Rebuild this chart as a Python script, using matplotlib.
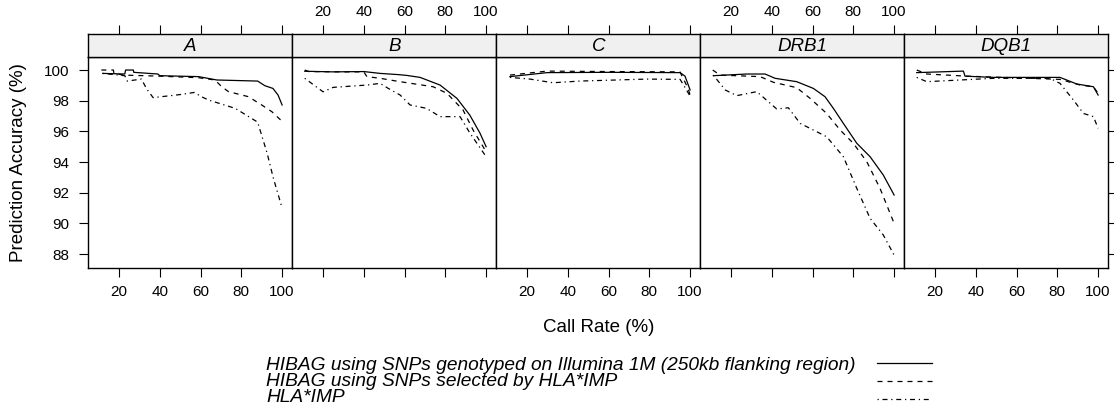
import matplotlib
matplotlib.use("Agg")
import matplotlib.pyplot as plt
from matplotlib.lines import Line2D

plt.rcParams['font.family'] = ['Liberation Sans', 'DejaVu Sans']

# Datos
genes = ['A', 'B', 'C', 'DRB1', 'DQB1']
series_labels = [
    'HIBAG using SNPs genotyped on Illumina 1M (250kb flanking region)',
    'HIBAG using SNPs selected by HLA*IMP',
    'HLA*IMP',
]

A_ilmn_x = [12, 22.8, 23.2, 27, 27.2, 39, 40, 59, 68, 88, 91.5, 95.5, 98, 100]
A_ilmn_y = [99.78, 99.74, 100.0, 100.0, 99.85, 99.74, 99.63, 99.57, 99.35, 99.28, 98.98, 98.8, 98.37, 97.72]
A_sel_x = [11.3, 17.2, 17.5, 22.1, 40, 59, 67, 70.4, 73.7, 83.5, 90, 95, 100]
A_sel_y = [100.0, 100.0, 99.78, 99.67, 99.6, 99.5, 99.35, 98.91, 98.59, 98.26, 97.72, 97.28, 96.65]
A_imp_x = [12, 22.8, 24, 31, 33.4, 36.7, 50, 57, 60.4, 64, 77, 88, 92.6, 95.6, 100]
A_imp_y = [99.78, 99.63, 99.28, 99.41, 98.8, 98.2, 98.4, 98.54, 98.26, 98.04, 97.5, 96.6, 94.6, 93.0, 91.0]

B_ilmn_x = [11, 25, 40, 48, 57, 61, 67.6, 77.4, 85.7, 92, 97, 100]
B_ilmn_y = [99.92, 99.88, 99.9, 99.78, 99.7, 99.65, 99.52, 99.02, 98.15, 97.06, 95.88, 95.0]
B_sel_x = [11, 13, 30, 40, 41.5, 48, 57.8, 74, 80.8, 88.7, 93.6, 100]
B_sel_y = [100.0, 99.9, 99.88, 99.88, 99.57, 99.46, 99.24, 98.91, 98.48, 97.39, 96.09, 94.67]
B_imp_x = [11, 20, 25, 41.5, 48, 52, 57.8, 62.7, 70.8, 77.4, 87.2, 92.1, 100]
B_imp_y = [99.46, 98.58, 98.87, 99.02, 99.13, 98.8, 98.37, 97.72, 97.5, 96.96, 96.96, 95.88, 94.35]

C_ilmn_x = [11.6, 29.8, 60, 95.1, 97.5, 100]
C_ilmn_y = [99.57, 99.83, 99.85, 99.83, 99.6, 98.7]
C_sel_x = [11.6, 29.8, 60, 95, 99, 100]
C_sel_y = [99.67, 99.93, 99.9, 99.88, 98.8, 98.37]
C_imp_x = [11.6, 21.4, 32.7, 45.9, 78.8, 95.1, 100]
C_imp_y = [99.52, 99.41, 99.17, 99.28, 99.41, 99.39, 98.3]

DRB1_ilmn_x = [11.3, 27.7, 36.7, 41.6, 52.2, 60.4, 66.1, 70.2, 75.1, 81.7, 88.2, 94.7, 100]
DRB1_ilmn_y = [99.63, 99.74, 99.74, 99.46, 99.24, 98.8, 98.26, 97.5, 96.52, 95.22, 94.35, 93.15, 91.85]
DRB1_sel_x = [11, 14.6, 34.2, 40.8, 52.2, 58.8, 66.9, 73.5, 80, 86.6, 93.1, 100]
DRB1_sel_y = [100.0, 99.67, 99.57, 99.2, 98.85, 98.15, 97.17, 96.09, 95.22, 94.02, 92.28, 90.0]
DRB1_imp_x = [11.3, 17.1, 22.8, 32.6, 42.4, 48.1, 53.9, 66.9, 75.1, 81.7, 88.2, 94.7, 100]
DRB1_imp_y = [99.67, 98.7, 98.33, 98.59, 97.46, 97.54, 96.52, 95.65, 94.35, 92.28, 90.33, 89.24, 87.93]

DQB1_ilmn_x = [11, 33.9, 34.7, 48.6, 81.3, 89.5, 97.7, 100]
DQB1_ilmn_y = [99.83, 99.93, 99.6, 99.52, 99.52, 99.09, 98.91, 98.37]
DQB1_sel_x = [11, 15.9, 35.6, 81.3, 91.2, 97.7, 100]
DQB1_sel_y = [100.0, 99.74, 99.6, 99.39, 99.02, 98.91, 98.48]
DQB1_imp_x = [11, 15.9, 32.3, 48.6, 76.4, 81.3, 87.9, 92.8, 97.7, 100]
DQB1_imp_y = [99.52, 99.24, 99.35, 99.46, 99.46, 99.13, 98.04, 97.17, 96.96, 96.2]

x_ticks = [20, 40, 60, 80, 100]
y_ticks = [88, 90, 92, 94, 96, 98, 100]

paneles = {
    'A': [(A_ilmn_x, A_ilmn_y), (A_sel_x, A_sel_y), (A_imp_x, A_imp_y)],
    'B': [(B_ilmn_x, B_ilmn_y), (B_sel_x, B_sel_y), (B_imp_x, B_imp_y)],
    'C': [(C_ilmn_x, C_ilmn_y), (C_sel_x, C_sel_y), (C_imp_x, C_imp_y)],
    'DRB1': [(DRB1_ilmn_x, DRB1_ilmn_y), (DRB1_sel_x, DRB1_sel_y), (DRB1_imp_x, DRB1_imp_y)],
    'DQB1': [(DQB1_ilmn_x, DQB1_ilmn_y), (DQB1_sel_x, DQB1_sel_y), (DQB1_imp_x, DQB1_imp_y)],
}

# Estilos de linea (lty 1, 2, 4 de R)
estilos = ['-', (0, (4.0, 4.0)), (0, (1.0, 3.0, 4.0, 3.0))]
lw = 0.9

W, H = 1114, 413
fig = plt.figure(figsize=(W / 100, H / 100), dpi=100)

def fx(px):
    return px / W

def fy(py):
    return 1 - py / H

left0, pw = 88.3, 204.0
top_strip, top_plot, bottom_plot = 34.0, 57.3, 268.3
xlim = (4.9, 105.0)
ylim = (87.07, 100.83)
fs_tick = 11
fs_lab = 13.5

for i, gen in enumerate(genes):
    l = left0 + i * pw
    ax = fig.add_axes([fx(l), fy(bottom_plot), pw / W, (bottom_plot - top_plot) / H])
    sax = fig.add_axes([fx(l), fy(top_plot), pw / W, (top_plot - top_strip) / H])

    for (xs, ys), ls in zip(paneles[gen], estilos):
        ax.plot(xs, ys, color='black', linestyle=ls, linewidth=lw)

    ax.set_xlim(xlim)
    ax.set_ylim(ylim)
    ax.set_xticks(x_ticks)
    ax.set_yticks(y_ticks)
    ax.tick_params(axis='x', direction='out', length=6.5, width=0.8, pad=5.5,
                   top=False, bottom=True, labelbottom=(i % 2 == 0), labelsize=fs_tick)
    ax.tick_params(axis='y', direction='out', length=6.5, width=0.8, pad=7,
                   left=(i == 0), right=(i == len(genes) - 1),
                   labelleft=(i == 0), labelright=False, labelsize=fs_tick)
    for s in ax.spines.values():
        s.set_linewidth(1.0)

    # Tira con el nombre del gen
    sax.set_facecolor('#f0f0f0')
    sax.set_xlim(xlim)
    sax.set_xticks(x_ticks)
    sax.set_yticks([])
    sax.tick_params(axis='x', direction='out', length=6.5, width=0.8, pad=4,
                    top=True, bottom=False, labeltop=(i % 2 == 1), labelbottom=False,
                    labelsize=fs_tick)
    for s in sax.spines.values():
        s.set_linewidth(1.0)
    sax.text(0.5, 0.45, gen, transform=sax.transAxes, ha='center', va='center',
             fontsize=fs_lab, style='italic')

fig.text(fx(18.8), fy((top_plot + bottom_plot) / 2), 'Prediction Accuracy (%)',
         rotation=90, ha='center', va='center', fontsize=fs_lab)
fig.text(fx(598.3), fy(327), 'Call Rate (%)', ha='center', va='center', fontsize=fs_lab)

# Leyenda
lax = fig.add_axes([0, 0, 1, 1])
lax.set_xlim(0, W)
lax.set_ylim(H, 0)
lax.axis('off')
base_texto = [370, 386, 401.7]
y_lineas = [362.7, 381, 399.3]
for lab, ls, yb, yl in zip(series_labels, estilos, base_texto, y_lineas):
    lax.text(266.0, yb, lab, ha='left', va='baseline', fontsize=13.8, style='italic')
    lax.add_line(Line2D([877.3, 931.7], [yl, yl], color='black', linestyle=ls, linewidth=lw))

fig.savefig('out.png', dpi=100)
